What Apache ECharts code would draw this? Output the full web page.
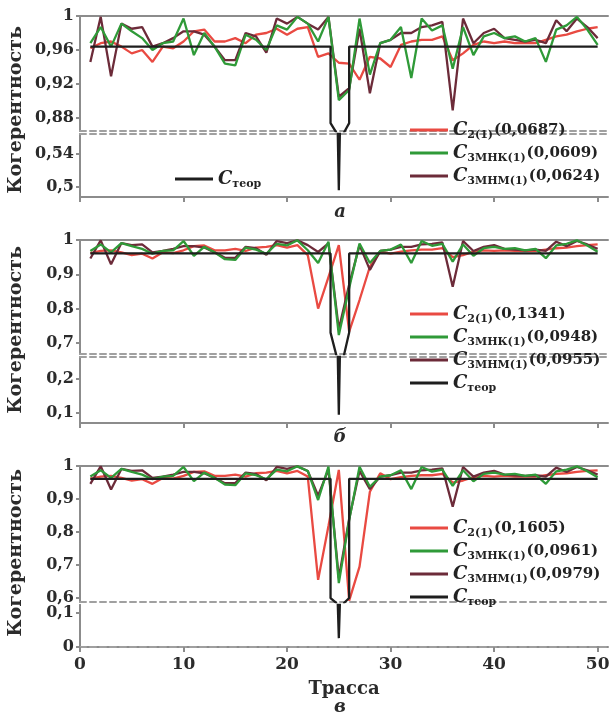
<!DOCTYPE html>
<html>
<head>
<meta charset="utf-8">
<script src="https://cdn.jsdelivr.net/npm/echarts@6/dist/echarts.min.js"></script>
<style>
  html, body { margin: 0; background: #fff; }
  #chart { width: 614px; height: 713px; }
</style>
</head>
<body>
<div id="chart"></div>
<script>
// номера трасс
const TRACES = [1,2,3,4,5,6,7,8,9,10,11,12,13,14,15,16,17,18,19,20,21,22,23,24,25,
  26,27,28,29,30,31,32,33,34,35,36,37,38,39,40,41,42,43,44,45,46,47,48,49,50];

// панель а
const RED_A = [0.962,0.968,0.970,0.964,0.956,0.960,0.946,0.964,0.962,0.970,
  0.982,0.984,0.970,0.970,0.974,0.968,0.978,0.980,0.985,0.978,
  0.985,0.987,0.952,0.956,0.945,0.944,0.925,0.952,0.950,0.940,
  0.966,0.970,0.972,0.972,0.976,0.948,0.956,0.966,0.970,0.968,
  0.970,0.968,0.968,0.968,0.972,0.976,0.978,0.982,0.985,0.987];
const GREEN_A = [0.968,0.987,0.964,0.991,0.982,0.974,0.960,0.968,0.970,0.997,
  0.954,0.980,0.964,0.944,0.942,0.978,0.972,0.960,0.989,0.984,
  0.999,0.991,0.970,0.999,0.901,0.913,0.997,0.931,0.968,0.972,
  0.987,0.927,0.997,0.983,0.989,0.938,0.987,0.954,0.976,0.980,
  0.974,0.976,0.970,0.974,0.946,0.984,0.989,0.999,0.984,0.966];
const MAROON_A = [0.946,0.999,0.929,0.991,0.985,0.987,0.964,0.968,0.974,0.982,
  0.982,0.978,0.964,0.948,0.948,0.980,0.976,0.957,0.997,0.991,
  0.999,0.991,0.984,0.999,0.905,0.915,0.985,0.909,0.968,0.972,
  0.980,0.980,0.987,0.989,0.993,0.889,0.997,0.968,0.980,0.985,
  0.974,0.972,0.970,0.972,0.968,0.995,0.982,0.997,0.987,0.974];

// панель б
const RED_B = [0.962,0.968,0.970,0.964,0.956,0.960,0.946,0.964,0.962,0.970,
  0.982,0.984,0.970,0.970,0.974,0.968,0.978,0.980,0.985,0.978,
  0.985,0.956,0.800,0.892,0.985,0.733,0.825,0.922,0.966,0.960,
  0.966,0.970,0.972,0.972,0.976,0.950,0.956,0.966,0.970,0.968,
  0.970,0.968,0.968,0.968,0.972,0.976,0.978,0.982,0.985,0.987];
const GREEN_B = [0.968,0.987,0.964,0.991,0.982,0.974,0.960,0.968,0.970,0.997,
  0.954,0.980,0.964,0.944,0.942,0.978,0.972,0.960,0.989,0.984,
  0.999,0.970,0.933,0.995,0.723,0.860,0.990,0.933,0.968,0.972,
  0.987,0.933,0.997,0.983,0.989,0.937,0.987,0.954,0.976,0.980,
  0.974,0.976,0.970,0.974,0.947,0.984,0.989,0.999,0.984,0.966];
const MAROON_B = [0.946,0.999,0.929,0.991,0.985,0.987,0.964,0.968,0.974,0.982,
  0.982,0.978,0.964,0.948,0.948,0.980,0.976,0.957,0.997,0.991,
  0.999,0.985,0.965,0.990,0.740,0.870,0.985,0.913,0.968,0.972,
  0.980,0.980,0.987,0.989,0.993,0.864,0.997,0.968,0.980,0.985,
  0.974,0.972,0.970,0.972,0.968,0.995,0.982,0.997,0.987,0.974];

// панель в
const RED_C = [0.962,0.968,0.970,0.964,0.956,0.960,0.946,0.964,0.962,0.970,
  0.982,0.984,0.970,0.970,0.974,0.968,0.978,0.980,0.985,0.978,
  0.985,0.968,0.655,0.818,0.988,0.592,0.695,0.922,0.978,0.960,
  0.966,0.970,0.972,0.972,0.976,0.950,0.956,0.966,0.970,0.968,
  0.970,0.968,0.968,0.968,0.972,0.976,0.978,0.982,0.985,0.987];
const GREEN_C = [0.968,0.987,0.964,0.991,0.982,0.974,0.960,0.968,0.970,0.997,
  0.954,0.980,0.964,0.944,0.942,0.978,0.972,0.960,0.989,0.984,
  0.999,0.985,0.897,0.998,0.645,0.836,0.998,0.937,0.968,0.972,
  0.987,0.930,0.997,0.983,0.989,0.940,0.987,0.954,0.976,0.980,
  0.974,0.976,0.970,0.974,0.946,0.984,0.989,0.999,0.984,0.966];
const MAROON_C = [0.946,0.999,0.929,0.991,0.985,0.987,0.964,0.968,0.974,0.982,
  0.982,0.978,0.964,0.948,0.948,0.980,0.976,0.957,0.997,0.991,
  0.999,0.985,0.910,0.990,0.660,0.840,0.985,0.930,0.968,0.972,
  0.980,0.980,0.987,0.989,0.993,0.877,0.997,0.968,0.980,0.985,
  0.974,0.972,0.970,0.972,0.968,0.995,0.982,0.997,0.987,0.974];

// теоретическая когерентность (провал на трассе 25)
const TEOR_X = [1, 24.2, 24.2, 24.75, 24.9, 25, 25.1, 25.5, 26, 26, 50];
const TEOR_A = [0.964,0.964,0.874,0.863,0.564,0.496,0.564,0.863,0.874,0.964,0.964];
const TEOR_B = [0.961,0.961,0.730,0.665,0.265,0.095,0.265,0.665,0.730,0.961,0.961];
const TEOR_C = [0.961,0.961,0.600,0.585,0.124,0.026,0.124,0.585,0.600,0.961,0.961];

// подписи осей
const X_TICKS = [0, 10, 20, 30, 40, 50];
const Y_UP_A = [0.88, 0.92, 0.96, 1], Y_LOW_A = [0.5, 0.54];
const Y_UP_B = [0.7, 0.8, 0.9, 1], Y_LOW_B = [0.1, 0.2];
const Y_UP_C = [0.6, 0.7, 0.8, 0.9, 1], Y_LOW_C = [0, 0.1];

// легенда
const SUBS = ['2(1)', '3МНК(1)', '3МНМ(1)'];
const ERR_A = ['0,0687', '0,0609', '0,0624'];
const ERR_B = ['0,1341', '0,0948', '0,0955'];
const ERR_C = ['0,1605', '0,0961', '0,0979'];

const COLORS = { red: '#e94a42', green: '#2f9a38', maroon: '#6c2b39', teor: '#1e1e1e' };
const GRAY = '#8c8c8c';
const FONT = 'DejaVu Serif';

const panels = [
  { key: 'a', red: RED_A, green: GREEN_A, maroon: MAROON_A, teor: TEOR_A, err: ERR_A,
    up: [0.8647, 1], low: [0.4879, 0.5642], upTicks: Y_UP_A, lowTicks: Y_LOW_A,
    upBox: [16, 115], lowBox: [134, 63], letter: 'а', letterY: 212, titleY: 110, legendTop: 113 },
  { key: 'b', red: RED_B, green: GREEN_B, maroon: MAROON_B, teor: TEOR_B, err: ERR_B,
    up: [0.6676, 1], low: [0.0706, 0.2647], upTicks: Y_UP_B, lowTicks: Y_LOW_B,
    upBox: [240, 114], lowBox: [357, 66], letter: 'б', letterY: 437, titleY: 330, legendTop: 297 },
  { key: 'c', red: RED_C, green: GREEN_C, maroon: MAROON_C, teor: TEOR_C, err: ERR_C,
    up: [0.588, 1], low: [0, 0.1235], upTicks: Y_UP_C, lowTicks: Y_LOW_C,
    upBox: [466, 136], lowBox: [605, 42], letter: 'в', letterY: 707, titleY: 553, legendTop: 511 }
];

const pairs = ys => TRACES.map((t, i) => [t, ys[i]]);
const teorPairs = ys => TEOR_X.map((t, i) => [t, ys[i]]);
const fmt = v => String(v).replace('.', ',');

const grid = [], xAxis = [], yAxis = [], series = [], legend = [], graphic = [];
const labels = {};

panels.forEach((p, pi) => {
  ['up', 'low'].forEach((part, k) => {
    const g = pi * 2 + k;
    const box = part === 'up' ? p.upBox : p.lowBox;
    const range = part === 'up' ? p.up : p.low;
    const ticks = part === 'up' ? p.upTicks : p.lowTicks;
    grid.push({ left: 80, width: 528, top: box[0], height: box[1] });
    const solid = { show: true, lineStyle: { color: GRAY, width: 2 } };
    const dashed = { show: true, lineStyle: { color: '#a0a0a0', width: 2, type: [6, 4] } };
    const isBottom = part === 'low';
    const showXLabels = isBottom && pi === 2;
    // нижняя ось
    xAxis.push({
      type: 'value', gridIndex: g, position: 'bottom', min: 0, max: 51,
      axisLine: isBottom ? solid : dashed,
      axisTick: { show: isBottom, customValues: X_TICKS, length: 5, lineStyle: { color: GRAY, width: 2 } },
      axisLabel: { show: showXLabels, customValues: X_TICKS, margin: 9,
        fontFamily: FONT, fontWeight: 'bold', fontSize: 17, color: '#2b2b2b' },
      splitLine: { show: false },
      name: showXLabels ? 'Трасса' : '', nameLocation: 'middle', nameGap: 33,
      nameTextStyle: { fontFamily: FONT, fontWeight: 'bold', fontSize: 18, color: '#2b2b2b' }
    });
    // верхняя ось
    xAxis.push({
      type: 'value', gridIndex: g, position: 'top', min: 0, max: 51,
      axisLine: isBottom ? dashed : solid,
      axisTick: { show: false }, axisLabel: { show: false }, splitLine: { show: false }
    });
    yAxis.push({
      type: 'value', gridIndex: g, position: 'left', min: range[0], max: range[1],
      axisLine: solid,
      axisTick: { show: true, customValues: ticks, length: 4, lineStyle: { color: GRAY, width: 2 } },
      axisLabel: { customValues: ticks, formatter: fmt, margin: 6,
        fontFamily: FONT, fontWeight: 'bold', fontSize: 16, color: '#2b2b2b' },
      splitLine: { show: false }
    });
    yAxis.push({
      type: 'value', gridIndex: g, position: 'right', min: range[0], max: range[1],
      axisLine: solid, axisTick: { show: false }, axisLabel: { show: false }, splitLine: { show: false }
    });
    const base = { type: 'line', xAxisIndex: g * 2, yAxisIndex: g * 2, symbol: 'none',
      clip: true, animation: false };
    series.push(Object.assign({}, base, { name: 'red_' + p.key, data: pairs(p.red),
      lineStyle: { color: COLORS.red, width: 2.3 }, itemStyle: { color: COLORS.red } }));
    series.push(Object.assign({}, base, { name: 'maroon_' + p.key, data: pairs(p.maroon),
      lineStyle: { color: COLORS.maroon, width: 2.3 }, itemStyle: { color: COLORS.maroon } }));
    series.push(Object.assign({}, base, { name: 'green_' + p.key, data: pairs(p.green),
      lineStyle: { color: COLORS.green, width: 2.3 }, itemStyle: { color: COLORS.green } }));
    series.push(Object.assign({}, base, { name: 'teor_' + p.key, data: teorPairs(p.teor),
      lineStyle: { color: COLORS.teor, width: 2.3 }, itemStyle: { color: COLORS.teor } }));
  });

  ['red', 'green', 'maroon'].forEach((c, i) => {
    labels[c + '_' + p.key] = '{c|C}{s|' + SUBS[i] + '}{v|(' + p.err[i] + ')}';
  });
  labels['teor_' + p.key] = '{c|C}{s|теор}';

  const names = ['red_' + p.key, 'green_' + p.key, 'maroon_' + p.key];
  if (p.key !== 'a') names.push('teor_' + p.key);
  legend.push(makeLegend(names, 405, p.legendTop));
  if (p.key === 'a') legend.push(makeLegend(['teor_a'], 170, 162));

  graphic.push({ type: 'text', x: 16, y: p.titleY, rotation: Math.PI / 2,
    style: { text: 'Когерентность', fill: '#2b2b2b', align: 'center', verticalAlign: 'middle',
      font: 'bold 19px "DejaVu Serif"' } });
  graphic.push({ type: 'text', x: 340, y: p.letterY,
    style: { text: p.letter, fill: '#2b2b2b', align: 'center', verticalAlign: 'middle',
      font: 'italic bold 18px "DejaVu Serif"' } });
});

function makeLegend(names, left, top) {
  return {
    data: names, orient: 'vertical', left: left, top: top, itemGap: 0,
    itemWidth: 38, itemHeight: 3, icon: 'rect', selectedMode: false,
    formatter: name => labels[name],
    textStyle: {
      color: '#222',
      rich: {
        c: { fontFamily: FONT, fontWeight: 'bold', fontStyle: 'italic', fontSize: 18, lineHeight: 22, color: '#222' },
        s: { fontFamily: FONT, fontWeight: 'bold', fontSize: 11, lineHeight: 10, padding: [12, 1, 0, 0],
             verticalAlign: 'bottom', color: '#222' },
        v: { fontFamily: FONT, fontWeight: 'bold', fontSize: 15, lineHeight: 22, color: '#222' }
      }
    }
  };
}

const chart = echarts.init(document.getElementById('chart'));
chart.setOption({
  animation: false,
  backgroundColor: '#fff',
  grid: grid, xAxis: xAxis, yAxis: yAxis, series: series, legend: legend, graphic: graphic
});
</script>
</body>
</html>
